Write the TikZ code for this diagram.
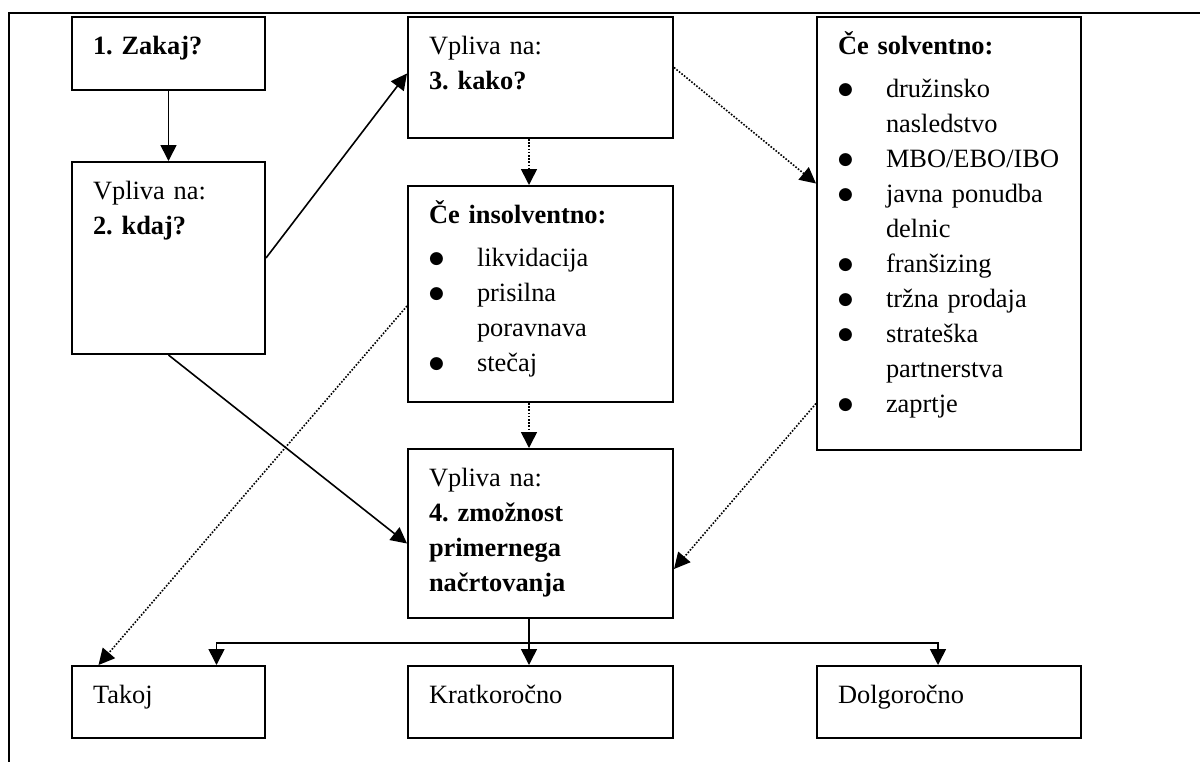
\documentclass[tikz,border=0pt]{standalone}
\usepackage{fontspec}
\setmainfont{Liberation Serif}
\newfontfamily\simboli{DejaVu Sans}
\usetikzlibrary{arrows.meta,positioning}

\newcommand\tocka[1]{\par\hangindent=24pt\hangafter=1\noindent\hbox to 24pt{\raisebox{1.2pt}{\simboli\fontsize{8.5}{8.5}\selectfont ●}\hss}#1}

\tikzset{
  okvir/.style={draw,line width=1pt,anchor=north west,align=left,
    inner xsep=10.5pt,inner ysep=0pt,text height=18.5pt},
  puscica/.style={line width=0.8pt,-{Triangle[length=8pt,width=8pt]}},
  pikcasto/.style={puscica,line width=0.8pt,dash pattern=on 0.8pt off 0.8pt},
}

\begin{document}
\begin{tikzpicture}[x=0.5pt,y=-0.5pt,font=\fontsize{13.2}{17.5}\selectfont\frenchspacing]
  \useasboundingbox (0,0) rectangle (1200,762);
  % rob celice
  \draw[line width=1pt] (1200,13) -- (9,13) -- (9,762);
  % levi stolpec
  \node[okvir,text width=75.5pt,text depth=18pt] (zakaj) at (71,16) {\textbf{1. Zakaj?}};
  \node[okvir,text width=75.5pt,text depth=77.5pt] (kdaj) at (71,161) {Vpliva na:\\\textbf{2. kdaj?}};
  % srednji stolpec
  \node[okvir,text width=111.5pt,text depth=42pt] (kako) at (407,16) {Vpliva na:\\\textbf{3. kako?}};
  \node[okvir,text width=111.5pt,text depth=89.5pt] (insolv) at (407,185) {\textbf{Če insolventno:}\par\vspace{4pt}
    \tocka{likvidacija}
    \tocka{prisilna\newline poravnava}
    \tocka{stečaj}};
  \node[okvir,text width=111.5pt,text depth=66pt] (nacrt) at (407,448) {Vpliva na:\\\textbf{4. zmožnost\\primernega\\načrtovanja}};
  % desni stolpec
  \node[okvir,text width=111pt,text depth=198pt] (solv) at (816,16) {\textbf{Če solventno:}\par\vspace{4pt}
    \tocka{družinsko\newline nasledstvo}
    \tocka{MBO/EBO/IBO}
    \tocka{javna ponudba\newline delnic}
    \tocka{franšizing}
    \tocka{tržna prodaja}
    \tocka{strateška\newline partnerstva}
    \tocka{zaprtje}};
  % spodnja vrsta
  \node[okvir,text width=75.5pt,text depth=17.5pt] (takoj) at (71,665) {Takoj};
  \node[okvir,text width=111.5pt,text depth=17.5pt] (kratko) at (407,665) {Kratkoročno};
  \node[okvir,text width=111pt,text depth=17.5pt] (dolgo) at (816,665) {Dolgoročno};

  % povezave
  \draw[puscica] (zakaj) -- (kdaj);
  \draw[puscica] (kdaj.east) -- ([yshift=2pt]kako.west);
  \draw[puscica] (kdaj.south) -- ([yshift=-5pt]nacrt.west);
  \draw[pikcasto] ([xshift=-5.75pt]kako.south) -- ([xshift=-5.75pt]insolv.north);
  \draw[pikcasto] ([xshift=-5.75pt]insolv.south) -- ([xshift=-5.75pt]nacrt.north);
  \draw[pikcasto] ([yshift=5pt]kako.east) -- ([yshift=25pt]solv.west);
  \draw[pikcasto] ([yshift=-6pt]insolv.west) -- ([xshift=-35pt]takoj.north);
  \draw[pikcasto] ([yshift=-85pt]solv.west) -- ([yshift=-17.75pt]nacrt.east);
  % razvod
  \coordinate (razvod) at ([xshift=-5.75pt,yshift=-12pt]nacrt.south);
  \draw[puscica] ([xshift=-5.75pt]nacrt.south) -- ([xshift=-5.75pt]kratko.north);
  \draw[puscica] (razvod) -| ([xshift=24pt]takoj.north);
  \draw[puscica] (razvod) -| ([xshift=-5.5pt]dolgo.north);
\end{tikzpicture}
\end{document}
